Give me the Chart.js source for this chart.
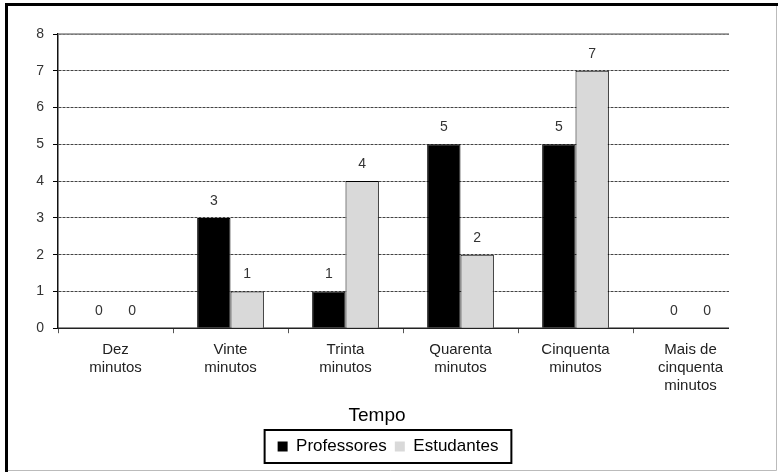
<!DOCTYPE html>
<html>
<head>
<meta charset="utf-8">
<script src="https://cdn.jsdelivr.net/npm/chart.js@4.4.0/dist/chart.umd.min.js"></script>
<style>
  html, body { margin: 0; padding: 0; background: #fff; }
  #wrap { width: 778px; height: 472px; position: relative; }
</style>
</head>
<body>
<div id="wrap"><canvas id="chart"></canvas></div>
<script>
const categories = [
    ["Dez", "minutos"],
    ["Vinte", "minutos"],
    ["Trinta", "minutos"],
    ["Quarenta", "minutos"],
    ["Cinquenta", "minutos"],
    ["Mais de", "cinquenta", "minutos"]
];
const professores = [0, 3, 1, 5, 5, 0];
const estudantes = [0, 1, 4, 2, 7, 0];
const yTicks = [0, 1, 2, 3, 4, 5, 6, 7, 8];

Chart.defaults.font.family = "'Liberation Sans', Arial, sans-serif";
Chart.defaults.color = "#333";

// frame round the picture
const framePlugin = {
    id: "frame",
    beforeDraw(chart) {
        const ctx = chart.ctx;
        ctx.save();
        ctx.fillStyle = "#fff";
        ctx.fillRect(0, 0, chart.width, chart.height);
        ctx.strokeStyle = "#bbb";
        ctx.lineWidth = 1;
        ctx.beginPath();
        ctx.moveTo(776.5, 3);
        ctx.lineTo(776.5, 470.5);
        ctx.lineTo(5, 470.5);
        ctx.stroke();
        ctx.strokeStyle = "#000";
        ctx.lineWidth = 3;
        ctx.beginPath();
        ctx.moveTo(6.5, 472);
        ctx.lineTo(6.5, 4.5);
        ctx.lineTo(778, 4.5);
        ctx.stroke();
        ctx.restore();
    }
};

// trims the plot on the right, draws the solid top line and the value labels
const extrasPlugin = {
    id: "extras",
    afterLayout(chart) {
        // legend and title sit a little right of the plot centre
        if (chart.legend) {
            chart.legend.left += 14;
            chart.legend.right += 14;
        }
        if (chart.titleBlock) {
            chart.titleBlock.left += 3;
            chart.titleBlock.right += 3;
        }
    },
    beforeDatasetsDraw(chart) {
        const ctx = chart.ctx;
        const a = chart.chartArea;
        const y = chart.scales.y;
        ctx.save();
        ctx.fillStyle = "#fff";
        ctx.fillRect(a.right - 19, a.top - 2, 30, a.bottom - a.top + 10);
        ctx.strokeStyle = "#888";
        ctx.lineWidth = 1.5;
        ctx.beginPath();
        ctx.moveTo(a.left, y.getPixelForValue(8));
        ctx.lineTo(a.right - 19, y.getPixelForValue(8));
        ctx.stroke();
        ctx.strokeStyle = "#222";
        ctx.beginPath();
        ctx.moveTo(a.left, a.bottom);
        ctx.lineTo(a.right - 19, a.bottom);
        ctx.stroke();
        ctx.restore();
    },
    afterDatasetsDraw(chart) {
        const ctx = chart.ctx;
        ctx.save();
        ctx.font = "14px 'Liberation Sans', Arial, sans-serif";
        ctx.fillStyle = "#333";
        ctx.textAlign = "center";
        ctx.textBaseline = "middle";
        chart.data.datasets.forEach(function (ds, i) {
            chart.getDatasetMeta(i).data.forEach(function (bar, j) {
                ctx.fillText(String(ds.data[j]), bar.x, bar.y - 17);
            });
        });
        ctx.restore();
    },
    afterDraw(chart) {
        const legend = chart.legend;
        if (!legend || !legend.legendHitBoxes.length) return;
        const boxes = legend.legendHitBoxes;
        const left = Math.min.apply(null, boxes.map(b => b.left)) - 13;
        const right = Math.max.apply(null, boxes.map(b => b.left + b.width)) + 13;
        const top = boxes[0].top - 8;
        const bottom = boxes[0].top + boxes[0].height + 8;
        const ctx = chart.ctx;
        ctx.save();
        ctx.strokeStyle = "#000";
        ctx.lineWidth = 2;
        ctx.strokeRect(left, top, right - left, bottom - top);
        ctx.restore();
    }
};

new Chart(document.getElementById("chart"), {
    type: "bar",
    data: {
        labels: categories,
        datasets: [
            {
                label: "Professores",
                data: professores,
                backgroundColor: "#000",
                borderColor: "#000",
                borderWidth: 1
            },
            {
                label: "Estudantes",
                data: estudantes,
                backgroundColor: "#d9d9d9",
                borderColor: "#000",
                borderWidth: 1
            }
        ]
    },
    options: {
        responsive: true,
        maintainAspectRatio: false,
        animation: false,
        datasets: {
            bar: { categoryPercentage: 0.58, barPercentage: 1 }
        },
        layout: { padding: { top: 34, right: 30, left: 0, bottom: 7 } },
        scales: {
            x: {
                grid: {
                    offset: true,
                    drawOnChartArea: false,
                    drawTicks: true,
                    tickLength: 5,
                    tickColor: "#555"
                },
                border: { display: false },
                ticks: {
                    color: "#222",
                    font: { size: 15 },
                    padding: 8,
                    maxRotation: 0,
                    autoSkip: false
                },
                afterFit(scale) { scale.height = 76; }
            },
            y: {
                min: 0,
                max: 8,
                afterBuildTicks(scale) {
                    scale.ticks = yTicks.map(v => ({ value: v }));
                },
                grid: {
                    color: "#444",
                    lineWidth: 1,
                    tickLength: 5,
                    tickColor: "#000",
                    tickBorderDash: []
                },
                border: { display: true, color: "#111", width: 1.5, dash: [3, 1] },
                ticks: {
                    color: "#333",
                    font: { size: 14 },
                    padding: 9
                },
                afterFit(scale) { scale.width = 58; }
            }
        },
        plugins: {
            title: {
                display: true,
                text: "Tempo",
                position: "bottom",
                weight: 500,
                color: "#000",
                font: { size: 19, weight: "normal" },
                padding: { top: 0, bottom: 3 }
            },
            legend: {
                position: "bottom",
                labels: {
                    color: "#000",
                    font: { size: 17 },
                    boxWidth: 10,
                    boxHeight: 10,
                    padding: 8,
                    generateLabels(chart) {
                        const items = Chart.defaults.plugins.legend.labels.generateLabels(chart);
                        items.forEach(function (item) {
                            item.lineWidth = 0;
                            item.strokeStyle = item.fillStyle;
                        });
                        return items;
                    }
                }
            },
            tooltip: { enabled: false }
        }
    },
    plugins: [framePlugin, extrasPlugin]
});
</script>
</body>
</html>
